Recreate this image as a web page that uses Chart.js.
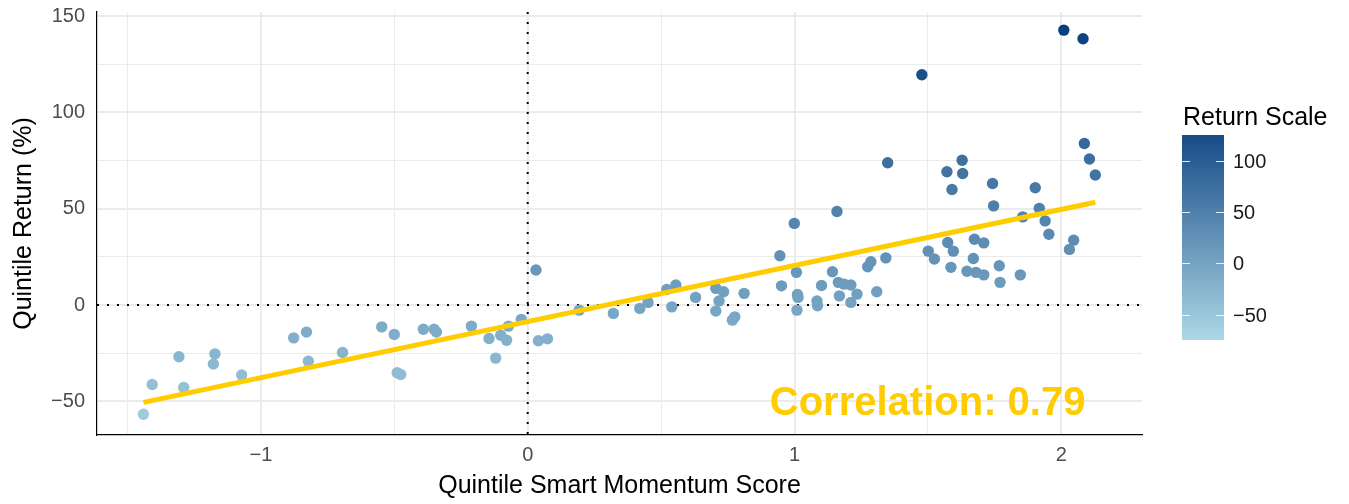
<!DOCTYPE html>
<html>
<head>
<meta charset="utf-8">
<script src="https://cdn.jsdelivr.net/npm/chart.js@4.4.1/dist/chart.umd.min.js"></script>
<style>
  html, body { margin: 0; padding: 0; background: #fff; }
</style>
</head>
<body>
<canvas id="chart" width="1349" height="504"></canvas>
<script>
// ==== Data ====
const scores = [
  -1.44, -1.407, -1.307, -1.289, -1.172, -1.178, -1.072, -0.877, -0.829, -0.822,
  -0.694, -0.547, -0.50, -0.489, -0.476, -0.391, -0.351, -0.342, -0.211, -0.145,
  -0.12, -0.101, -0.079, -0.072, -0.024, 0.031, 0.040, 0.074, 0.193, 0.321,
  0.42, 0.451, 0.521, 0.555, 0.54, 0.629, 0.705, 0.734, 0.717, 0.705,
  0.767, 0.776, 0.811, 0.945, 0.951, 1.007, 1.011, 1.013, 1.009, 1.084,
  1.086, 1.142, 1.164, 1.186, 1.211, 1.168, 1.211, 1.234, 0.999, 1.159,
  1.349, 1.274, 1.286, 1.308, 1.342, 1.501, 1.524, 1.571, 1.59, 1.628,
  1.63, 1.574, 1.595, 1.586, 1.674, 1.709, 1.67, 1.646, 1.68, 1.709,
  1.742, 1.746, 1.767, 1.77, 1.846, 1.855, 1.902, 1.917, 1.939, 1.953,
  2.086, 2.105, 2.127, 2.046, 2.03, 2.009, 2.081, 1.477, 1.101
];
const returns = [
  -56.6, -41.2, -26.8, -42.7, -25.3, -30.6, -36.3, -17.0, -14.0, -29.1,
  -24.6, -11.3, -15.2, -35.1, -36.0, -12.5, -12.5, -14.0, -10.9, -17.3,
  -27.5, -15.6, -18.2, -10.9, -7.4, 18.2, -18.5, -17.5, -2.6, -4.3,
  -1.7, 1.4, 8.1, 10.4, -0.9, 4.0, 8.7, 6.9, 2.1, -3.1,
  -7.8, -6.1, 6.1, 25.6, 10.0, 17.0, 5.5, 4.0, -2.6, 2.1,
  -0.3, 17.3, 11.8, 10.9, 10.4, 4.8, 1.4, 5.7, 42.4, 48.6,
  73.9, 19.9, 22.5, 6.9, 24.5, 28.0, 23.9, 69.2, 60.0, 75.2,
  68.3, 32.5, 28.0, 19.6, 34.2, 32.3, 24.2, 17.6, 17.0, 15.7,
  63.1, 51.5, 20.4, 11.8, 15.7, 45.8, 60.9, 50.2, 43.7, 36.8,
  83.9, 75.8, 67.5, 33.7, 28.9, 142.7, 138.2, 119.5, 10.2
];
const xTicks = [-1.5, -1, -0.5, 0, 0.5, 1, 1.5, 2];
const yTicks = [-50, -25, 0, 25, 50, 75, 100, 125, 150];
const legendTicks = [-50, 0, 50, 100];
const correlationLabel = "Correlation: 0.79";

// ==== Colour scale ====
const colorLow = [173, 216, 230];
const colorHigh = [10, 63, 127];
const colorMin = -75, colorMax = 143;

function returnColor(v) {
  let t = (v - colorMin) / (colorMax - colorMin);
  t = Math.max(0, Math.min(1, t));
  const c = colorLow.map((lo, i) => Math.round(lo + (colorHigh[i] - lo) * t));
  return `rgb(${c[0]},${c[1]},${c[2]})`;
}

// ==== Linear fit ====
const n = scores.length;
const mx = scores.reduce((a, b) => a + b, 0) / n;
const my = returns.reduce((a, b) => a + b, 0) / n;
let sxy = 0, sxx = 0;
scores.forEach((x, i) => { sxy += (x - mx) * (returns[i] - my); sxx += (x - mx) ** 2; });
const slope = sxy / sxx;
const intercept = my - slope * mx;
const xLo = Math.min(...scores), xHi = Math.max(...scores);
const fitPoints = [xLo, xHi].map(x => ({ x, y: intercept + slope * x }));

const points = scores.map((x, i) => ({ x, y: returns[i] }));
const pointColors = returns.map(returnColor);

const FONT = "'Liberation Sans', Arial, sans-serif";
const fmt = v => (v < 0 ? "\u2212" + Math.abs(v) : String(v));

// ==== Plugins ====
const zeroLines = {
  id: "zeroLines",
  beforeDatasetsDraw(chart) {
    const { ctx, chartArea: a, scales: { x, y } } = chart;
    ctx.save();
    ctx.strokeStyle = "#000";
    ctx.lineWidth = 2;
    ctx.setLineDash([2, 8]);
    const px = x.getPixelForValue(0), py = y.getPixelForValue(0);
    ctx.beginPath();
    ctx.moveTo(px, a.top); ctx.lineTo(px, a.bottom);
    ctx.moveTo(a.left, py); ctx.lineTo(a.right, py);
    ctx.stroke();
    ctx.restore();
  }
};

const corrLabel = {
  id: "corrLabel",
  afterDatasetsDraw(chart) {
    const { ctx, scales: { x, y } } = chart;
    ctx.save();
    ctx.font = `bold 40px ${FONT}`;
    ctx.fillStyle = "#FFCC00";
    ctx.textAlign = "right";
    ctx.textBaseline = "alphabetic";
    ctx.fillText(correlationLabel, x.getPixelForValue(2.09), y.getPixelForValue(-57));
    ctx.restore();
  }
};

const colorBar = {
  id: "colorBar",
  afterDraw(chart) {
    const { ctx } = chart;
    const left = 1182, right = 1224, top = 135, bottom = 340;
    const vTop = 125, vBottom = -74.6;
    const toY = v => top + (vTop - v) / (vTop - vBottom) * (bottom - top);
    ctx.save();
    ctx.font = `25px ${FONT}`;
    ctx.fillStyle = "#000";
    ctx.textBaseline = "alphabetic";
    ctx.fillText("Return Scale", 1183, 125);
    for (let yy = top; yy < bottom; yy++) {
      const v = vTop - (yy - top) / (bottom - top) * (vTop - vBottom);
      ctx.fillStyle = returnColor(v);
      ctx.fillRect(left, yy, right - left, 1);
    }
    ctx.strokeStyle = "rgba(255,255,255,0.85)";
    ctx.lineWidth = 1;
    ctx.font = `20px ${FONT}`;
    ctx.fillStyle = "#1a1a1a";
    ctx.textBaseline = "middle";
    legendTicks.forEach(v => {
      const ty = Math.round(toY(v)) + 0.5;
      ctx.beginPath();
      ctx.moveTo(left, ty); ctx.lineTo(left + 8, ty);
      ctx.moveTo(right - 8, ty); ctx.lineTo(right, ty);
      ctx.stroke();
      ctx.fillText(fmt(v), 1233, ty + 1);
    });
    ctx.restore();
  }
};

// ==== Chart ====
const gridOpts = major => ({
  color: "#EBEBEB",
  lineWidth: c => (c.tick && major.includes(c.tick.value) ? 2 : 1),
  drawTicks: false
});

new Chart(document.getElementById("chart"), {
  type: "scatter",
  data: {
    datasets: [
      {
        data: fitPoints,
        showLine: true,
        borderColor: "#FFCC00",
        borderWidth: 5,
        pointRadius: 0,
        order: 0
      },
      {
        data: points,
        backgroundColor: pointColors,
        pointRadius: 5.7,
        pointBorderWidth: 0,
        order: 1
      }
    ]
  },
  options: {
    responsive: false,
    animation: false,
    events: [],
    layout: { padding: { top: 12, right: 207, left: 0, bottom: 0 } },
    plugins: { legend: { display: false }, tooltip: { enabled: false } },
    scales: {
      x: {
        type: "linear",
        min: -1.614,
        max: 2.302,
        afterBuildTicks: s => { s.ticks = xTicks.map(value => ({ value })); },
        afterFit: s => { s.height = 69; s.paddingLeft = 0; s.paddingRight = 0; },
        grid: gridOpts([-1, 0, 1, 2]),
        border: { display: true, color: "#000", width: 1.2 },
        ticks: {
          autoSkip: false, maxRotation: 0, padding: 8,
          color: "#4D4D4D", font: { family: FONT, size: 20 },
          callback: v => (Number.isInteger(v) ? fmt(v) : "")
        },
        title: {
          display: true, text: "Quintile Smart Momentum Score",
          color: "#000", font: { family: FONT, size: 25 },
          padding: { top: 0, bottom: 3 }
        }
      },
      y: {
        type: "linear",
        min: -67.4,
        max: 152.1,
        afterBuildTicks: s => { s.ticks = yTicks.map(value => ({ value })); },
        afterFit: s => { s.width = 97; s.paddingTop = 0; s.paddingBottom = 0; },
        grid: gridOpts([-50, 0, 50, 100, 150]),
        border: { display: true, color: "#000", width: 1.2 },
        ticks: {
          autoSkip: false, padding: 12,
          color: "#4D4D4D", font: { family: FONT, size: 20 },
          callback: v => (v % 50 === 0 ? fmt(v) : "")
        },
        title: {
          display: true, text: "Quintile Return (%)",
          color: "#000", font: { family: FONT, size: 25 },
          padding: { top: 9, bottom: 0 }
        }
      }
    }
  },
  plugins: [zeroLines, corrLabel, colorBar]
});
</script>
</body>
</html>
